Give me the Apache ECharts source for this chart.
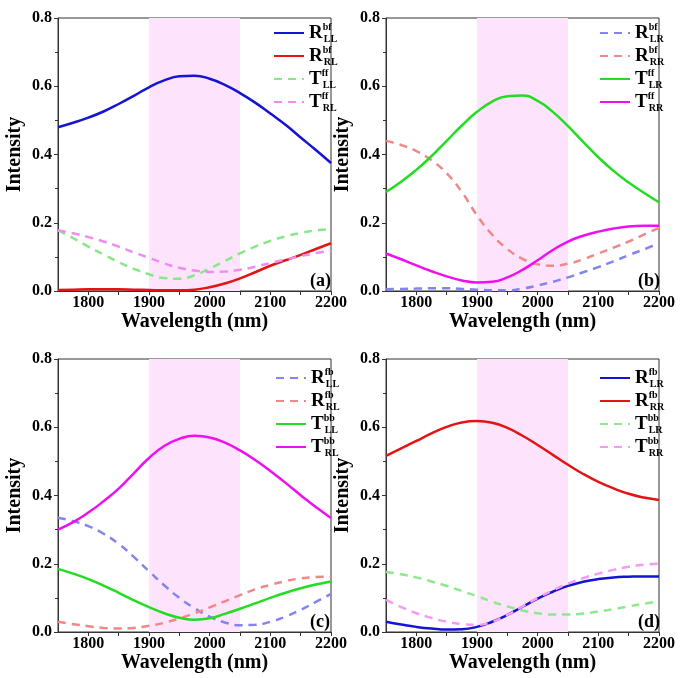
<!DOCTYPE html>
<html>
<head>
<meta charset="utf-8">
<script src="https://cdn.jsdelivr.net/npm/echarts@6/dist/echarts.min.js"></script>
<style>
html,body{margin:0;padding:0;background:#fff}
#main{width:685px;height:678px}
</style>
</head>
<body>
<div id="main"></div>
<script>
// wavelength grid (nm) and tick labels
var wavelength = [1750, 1775, 1800, 1825, 1850, 1875, 1900, 1925, 1950, 1975,
  2000, 2025, 2050, 2075, 2100, 2125, 2150, 2175, 2200];
var xTicks = [1800, 1850, 1900, 1950, 2000, 2050, 2100, 2150, 2200];
var xLabels = [1800, 1900, 2000, 2100, 2200];
var band = [1900, 2050];

// panel (a)
var aNames = ['R^bf_LL', 'R^bf_RL', 'T^ff_LL', 'T^ff_RL'];
var a_R_LL = [.480, .493, .508, .526, .548, .572, .597, .617, .629, .631, .622, .604, .580, .552, .520, .487, .450, .413, .375];
var a_R_RL = [.003, .004, .005, .005, .005, .004, .003, .002, .002, .004, .011, .022, .037, .055, .074, .090, .106, .123, .140];
var a_T_LL = [.178, .155, .130, .107, .085, .065, .049, .038, .036, .046, .066, .088, .110, .130, .147, .160, .170, .177, .181];
var a_T_RL = [.178, .169, .158, .145, .130, .113, .097, .081, .068, .060, .056, .057, .062, .071, .082, .092, .102, .111, .118];

// panel (b)
var bNames = ['R^bf_LR', 'R^bf_RR', 'T^ff_LR', 'T^ff_RR'];
var b_R_LR = [.005, .006, .007, .008, .008, .006, .004, .002, .002, .007, .016, .027, .040, .055, .070, .087, .105, .122, .140];
var b_R_RR = [.440, .428, .410, .383, .345, .290, .222, .165, .123, .094, .078, .074, .080, .093, .110, .127, .145, .165, .185];
var b_T_LR = [.290, .320, .355, .395, .440, .485, .525, .555, .571, .573, .557, .525, .483, .437, .392, .352, .318, .288, .260];
var b_T_RR = [.110, .093, .075, .058, .043, .031, .025, .027, .040, .062, .090, .120, .145, .162, .174, .183, .189, .191, .191];

// panel (c)
var cNames = ['R^fb_LL', 'R^fb_RL', 'T^bb_LL', 'T^bb_RL'];
var c_R_LL = [.335, .325, .310, .288, .258, .220, .178, .137, .100, .070, .045, .028, .020, .021, .030, .045, .065, .088, .112];
var c_R_RL = [.030, .023, .017, .012, .010, .012, .018, .027, .040, .055, .072, .090, .108, .125, .138, .149, .157, .161, .162];
var c_T_LL = [.185, .171, .155, .136, .115, .093, .073, .055, .042, .036, .040, .053, .068, .084, .100, .115, .128, .139, .148];
var c_T_RL = [.300, .322, .350, .383, .420, .465, .510, .545, .566, .575, .570, .555, .532, .504, .472, .437, .401, .366, .334];

// panel (d)
var dNames = ['R^fb_LR', 'R^fb_RR', 'T^bb_LR', 'T^bb_RR'];
var d_R_LR = [.030, .022, .015, .010, .007, .008, .015, .030, .050, .074, .098, .118, .135, .147, .155, .160, .162, .163, .163];
var d_R_RR = [.516, .538, .560, .582, .601, .614, .618, .613, .598, .575, .548, .519, .490, .463, .440, .421, .405, .394, .387];
var d_T_LR = [.176, .169, .160, .148, .135, .120, .105, .089, .075, .063, .055, .051, .051, .054, .060, .067, .075, .083, .090];
var d_T_RR = [.094, .073, .055, .041, .030, .023, .021, .030, .050, .075, .100, .122, .142, .158, .171, .182, .191, .197, .200];

var serif = 'Liberation Serif';
var chart = echarts.init(document.getElementById('main'));

var panels = [
  {label: '(a)', left: 58, top: 18, legendLeft: 273, legendTop: 22, names: aNames,
   data: [a_R_LL, a_R_RL, a_T_LL, a_T_RL],
   colors: ['#1414d2', '#e21414', '#88e888', '#f08cf0'],
   dashed: [false, false, true, true]},
  {label: '(b)', left: 386, top: 18, legendLeft: 599, legendTop: 22, names: bNames,
   data: [b_R_LR, b_R_RR, b_T_LR, b_T_RR],
   colors: ['#8484ee', '#f08888', '#22dd22', '#ee10ee'],
   dashed: [true, true, false, false]},
  {label: '(c)', left: 58, top: 359, legendLeft: 275, legendTop: 367, names: cNames,
   data: [c_R_LL, c_R_RL, c_T_LL, c_T_RL],
   colors: ['#8484ee', '#f08888', '#22dd22', '#ee10ee'],
   dashed: [true, true, false, false]},
  {label: '(d)', left: 386, top: 359, legendLeft: 599, legendTop: 367, names: dNames,
   data: [d_R_LR, d_R_RR, d_T_LR, d_T_RR],
   colors: ['#1414d2', '#e21414', '#8ee88e', '#f59af5'],
   dashed: [false, false, true, true]}
];

function legendText(name) {
  // 'R^bf_LL' -> R with stacked super/subscript
  var m = name.match(/^(\w)\^(\w+)_(\w+)$/);
  return '{r|' + m[1] + '}{sup|' + m[2] + '}{sub|' + m[3] + '}';
}

var grid = [], xAxis = [], yAxis = [], series = [], legend = [], title = [];

panels.forEach(function (p, i) {
  grid.push({left: p.left, top: p.top, width: 273, height: 273,
    show: true, borderColor: '#333', borderWidth: 1, backgroundColor: 'transparent'});
  xAxis.push({
    type: 'value', gridIndex: i, min: 1750, max: 2200,
    name: 'Wavelength (nm)', nameLocation: 'middle', nameGap: 21,
    nameTextStyle: {fontFamily: serif, fontSize: 20, fontWeight: 'bold', color: '#000'},
    axisLine: {lineStyle: {color: '#333', width: 1}},
    axisTick: {show: true, length: 4, customValues: xTicks, lineStyle: {color: '#333'}},
    axisLabel: {customValues: xLabels, margin: 4, fontFamily: serif, fontSize: 16,
      fontWeight: 'bold', color: '#000', formatter: function (v) { return String(v); }},
    splitLine: {show: false}
  });
  yAxis.push({
    type: 'value', gridIndex: i, min: 0, max: 0.8, interval: 0.2,
    name: 'Intensity', nameLocation: 'middle', nameGap: 33,
    nameTextStyle: {fontFamily: serif, fontSize: 20, fontWeight: 'bold', color: '#000'},
    axisLine: {show: true, lineStyle: {color: '#333', width: 1}},
    axisTick: {show: true, length: 4, lineStyle: {color: '#333'}},
    minorTick: {show: true, splitNumber: 2, length: 3, lineStyle: {color: '#333'}},
    axisLabel: {margin: 6, fontFamily: serif, fontSize: 16, fontWeight: 'bold', color: '#000',
      formatter: function (v) { return v.toFixed(1); }},
    splitLine: {show: false}
  });
  // highlighted wavelength band
  series.push({
    type: 'line', xAxisIndex: i, yAxisIndex: i, data: [], z: 1, silent: true,
    markArea: {silent: true, itemStyle: {color: '#fde4fc'},
      data: [[{xAxis: band[0]}, {xAxis: band[1]}]]}
  });
  p.names.forEach(function (n, k) {
    series.push({
      name: n, type: 'line', xAxisIndex: i, yAxisIndex: i, z: 3,
      smooth: true, symbol: 'none', showSymbol: false,
      data: wavelength.map(function (w, j) { return [w, p.data[k][j]]; }),
      lineStyle: {color: p.colors[k], width: 2.5, type: p.dashed[k] ? [8, 6] : 'solid'},
      itemStyle: {color: p.colors[k]}
    });
  });
  legend.push({
    data: p.names, orient: 'vertical', left: p.legendLeft, top: p.legendTop,
    padding: 0, itemWidth: 30, itemHeight: 10, itemGap: 1, selectedMode: false,
    itemStyle: {opacity: 0},
    formatter: legendText,
    textStyle: {
      rich: {
        r: {fontFamily: serif, fontSize: 19, fontWeight: 'bold', color: '#000', lineHeight: 22},
        sup: {fontFamily: serif, fontSize: 10, fontWeight: 'bold', color: '#000',
          verticalAlign: 'top', lineHeight: 11, width: 1},
        sub: {fontFamily: serif, fontSize: 10, fontWeight: 'bold', color: '#000',
          verticalAlign: 'bottom', lineHeight: 12}
      }
    }
  });
  title.push({
    text: p.label, left: p.left + 247, top: p.top + 249,
    textStyle: {fontFamily: serif, fontSize: 18, fontWeight: 'bold', color: '#000'}
  });
});

chart.setOption({
  animation: false,
  backgroundColor: '#fff',
  title: title,
  legend: legend,
  grid: grid,
  xAxis: xAxis,
  yAxis: yAxis,
  series: series
});
</script>
</body>
</html>
